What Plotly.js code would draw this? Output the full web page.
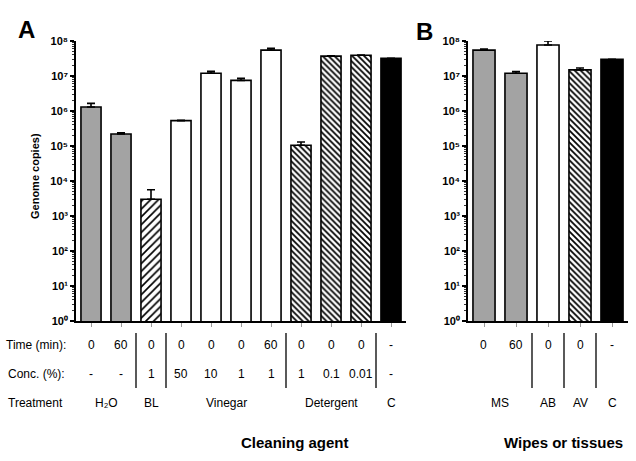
<!DOCTYPE html>
<html>
<head>
<meta charset="utf-8">
<script src="https://cdn.plot.ly/plotly-3.0.1.min.js"></script>
<style>html,body{margin:0;padding:0;background:#fff;}#chart{width:636px;height:461px;}</style>
</head>
<body>
<div id="chart"></div>
<script>
// ---- Panel A data (Cleaning agent) ----
const catsA   = ['H2O 0', 'H2O 60', 'BL 1', 'Vinegar 50', 'Vinegar 10', 'Vinegar 1', 'Vinegar 1 (60)', 'Detergent 1', 'Detergent 0.1', 'Detergent 0.01', 'C'];
const valsA   = [1.3e6, 2.2e5, 3.0e3, 5.3e5, 1.2e7, 7.5e6, 5.5e7, 1.05e5, 3.7e7, 3.9e7, 3.2e7];
const errA    = [3.5e5, 2.0e4, 2.6e3, 1.0e4, 1.6e6, 1.1e6, 7.0e6, 2.5e4, 1.0e6, 1.0e6, 0];
const timeA   = ['0', '60', '0', '0', '0', '0', '60', '0', '0', '0', '-'];
const concA   = ['-', '-', '1', '50', '10', '1', '1', '1', '0.1', '0.01', '-'];
const fillA   = ['#a3a3a3', '#a3a3a3', 'white', 'white', 'white', 'white', 'white', 'white', 'white', 'white', 'black'];
const hatchA  = ['', '', '/', '', '', '', '', '\\', '\\', '\\', ''];
const treatLabelsA = ['H\u2082O', 'BL', 'Vinegar', 'Detergent', 'C'];
const treatSpanA   = [[0, 1], [2, 2], [3, 6], [7, 9], [10, 10]];

// ---- Panel B data (Wipes or tissues) ----
const catsB   = ['MS 0', 'MS 60', 'AB', 'AV', 'C'];
const valsB   = [5.5e7, 1.2e7, 7.7e7, 1.5e7, 3.0e7];
const errB    = [4.0e6, 1.5e6, 2.3e7, 2.0e6, 0];
const timeB   = ['0', '60', '0', '0', '-'];
const fillB   = ['#a3a3a3', '#a3a3a3', 'white', 'white', 'black'];
const hatchB  = ['', '', '', '\\', ''];
const treatLabelsB = ['MS', 'AB', 'AV', 'C'];
const treatSpanB   = [[0, 1], [2, 2], [3, 3], [4, 4]];

const decades = [0, 1, 2, 3, 4, 5, 6, 7, 8];
const supDigits = ['\u2070', '\u00b9', '\u00b2', '\u00b3', '\u2074', '\u2075', '\u2076', '\u2077', '\u2078'];
const tickVals = decades.map(d => Math.pow(10, d));
const tickText = decades.map(d => '<b>10' + supDigits[d] + '</b>');

const W = 636, H = 461;
const py = v => 1 - v / H;
const FONT = 'Arial, "Liberation Sans", sans-serif';

function panelTraces(cats, vals, errs, fills, hatch, xa, ya, width) {
  const idx = cats.map((_, i) => i);
  const plain = idx.filter(i => !hatch[i]);
  const hatched = idx.filter(i => hatch[i]);
  const errY = ids => ({
    type: 'data', symmetric: false, array: ids.map(i => errs[i]), arrayminus: ids.map(() => 0),
    color: 'black', thickness: 1.6, width: 4
  });
  return [{
    type: 'bar', x: plain, y: plain.map(i => vals[i]), xaxis: xa, yaxis: ya, width: width,
    marker: {color: plain.map(i => fills[i]), line: {color: 'black', width: 1.6}},
    error_y: errY(plain), showlegend: false
  }, {
    type: 'bar', x: hatched, y: hatched.map(i => vals[i]), xaxis: xa, yaxis: ya, width: width,
    marker: {
      color: 'white', line: {color: 'black', width: 1.6},
      pattern: {
        shape: hatched.map(i => hatch[i]), fgcolor: 'black', bgcolor: 'white',
        size: hatched.map(i => hatch[i] === '/' ? 5.5 : 4.2),
        solidity: hatched.map(i => hatch[i] === '/' ? 0.3 : 0.42)
      }
    },
    error_y: errY(hatched), showlegend: false
  }];
}

const data = [].concat(
  panelTraces(catsA, valsA, errA, fillA, hatchA, 'x', 'y', 0.67),
  panelTraces(catsB, valsB, errB, fillB, hatchB, 'x2', 'y2', 0.69)
);

const yCommon = {
  type: 'log', range: [0, 8],
  domain: [py(321), py(41)],
  tickvals: tickVals, ticktext: tickText,
  tickfont: {family: FONT, size: 11, color: 'black'},
  showline: true, linecolor: 'black', linewidth: 1.6,
  ticks: 'outside', ticklen: 4, tickwidth: 1.5, tickcolor: 'black',
  minor: {ticks: 'outside', ticklen: 2, tickwidth: 0.8, tickcolor: '#333', dtick: 'D1'},
  showgrid: false, zeroline: false, fixedrange: true
};
const xCommon = {
  showline: true, linecolor: 'black', linewidth: 1.6,
  ticks: 'outside', ticklen: 4, tickwidth: 1, tickcolor: '#999',
  showticklabels: false, showgrid: false, zeroline: false, fixedrange: true
};

const layout = {
  width: W, height: H,
  margin: {l: 0, r: 0, t: 0, b: 0},
  paper_bgcolor: 'white', plot_bgcolor: 'white',
  font: {family: FONT, color: 'black'},
  barmode: 'overlay',
  xaxis: Object.assign({}, xCommon, {domain: [76 / W, 406 / W], range: [-0.5, catsA.length - 0.5], anchor: 'y',
    tickvals: catsA.map((_, i) => i)}),
  yaxis: Object.assign({}, yCommon, {anchor: 'x'}),
  xaxis2: Object.assign({}, xCommon, {domain: [468 / W, 628 / W], range: [-0.5, catsB.length - 0.5], anchor: 'y2',
    tickvals: catsB.map((_, i) => i)}),
  yaxis2: Object.assign({}, yCommon, {anchor: 'x2'}),
  annotations: [],
  shapes: []
};

const ann = layout.annotations;
function txt(text, xref, x, y, size, bold, xanchor, angle) {
  ann.push({text: bold ? '<b>' + text + '</b>' : text, xref: xref, yref: 'paper', x: x, y: y,
    showarrow: false, xanchor: xanchor || 'center', yanchor: 'middle', textangle: angle || 0,
    font: {family: FONT, size: size, color: 'black'}});
}

// Panel letters
txt('A', 'paper', 26 / W, py(30), 24, true);
txt('B', 'paper', 424 / W, py(31), 24, true);

// Y axis title
txt('Genome copies)', 'paper', 35 / W, py(176), 11, true, 'center', -90);

// Row labels
txt('Time (min):', 'paper', 4 / W, py(345), 12, false, 'left');
txt('Conc. (%):', 'paper', 6 / W, py(374), 12, false, 'left');
txt('Treatment', 'paper', 6 / W, py(403), 12, false, 'left');

// Time / Conc values
timeA.forEach((t, i) => txt(t, 'x', i, py(345), 12, false));
concA.forEach((c, i) => txt(c, 'x', i, py(374), 12, false));
timeB.forEach((t, i) => txt(t, 'x2', i, py(345), 12, false));

// Treatment labels and separators
function groups(labels, spans, xref) {
  labels.forEach((l, k) => txt(l, xref, (spans[k][0] + spans[k][1]) / 2, py(403), 12, false));
  for (let k = 0; k < spans.length - 1; k++) {
    layout.shapes.push({type: 'line', xref: xref, yref: 'paper',
      x0: spans[k][1] + 0.5, x1: spans[k][1] + 0.5, y0: py(333), y1: py(388),
      line: {color: 'black', width: 1.3}});
  }
}
groups(treatLabelsA, treatSpanA, 'x');
groups(treatLabelsB, treatSpanB, 'x2');

// Bottom titles
txt('Cleaning agent', 'paper', 295 / W, py(442), 15, true);
txt('Wipes or tissues', 'paper', 563 / W, py(442), 15, true);

Plotly.newPlot('chart', data, layout, {displayModeBar: false});
</script>
</body>
</html>
